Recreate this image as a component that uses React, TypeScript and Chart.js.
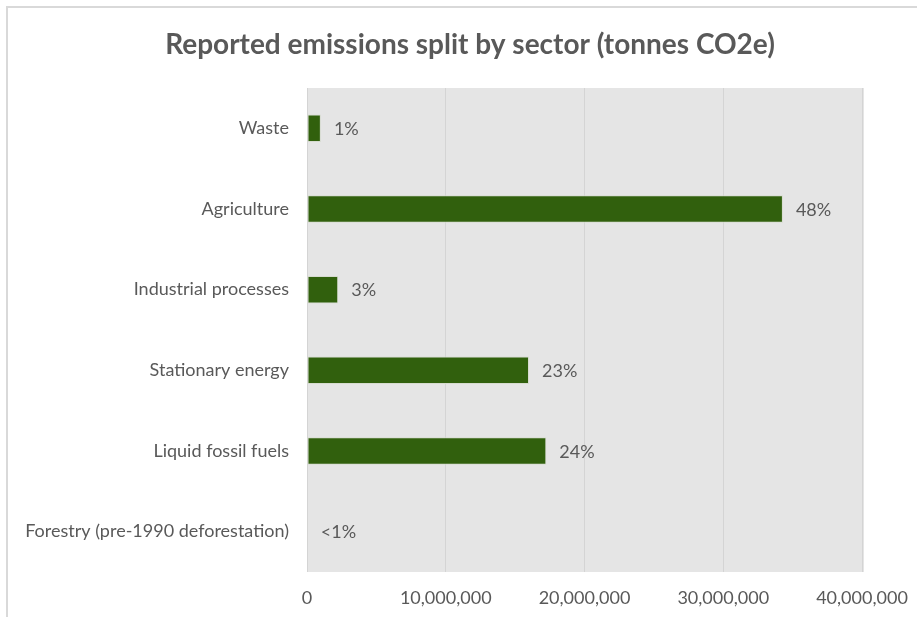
import React, { useEffect, useRef } from "react";
import { Chart, registerables } from "chart.js";

Chart.register(...registerables);

const categories = [
  "Waste",
  "Agriculture",
  "Industrial processes",
  "Stationary energy",
  "Liquid fossil fuels",
  "Forestry (pre-1990 deforestation)",
];
const emissions = [1000000, 34300000, 2250000, 16000000, 17250000, 60000];
const shareLabels = ["1%", "48%", "3%", "23%", "24%", "<1%"];
const xTicks = [0, 10000000, 20000000, 30000000, 40000000];

const TEXT = "#595959";
const FONT = "Lato, 'Open Sans', sans-serif";

export default function App() {
  const ref = useRef<HTMLCanvasElement | null>(null);

  useEffect(() => {
    document.body.style.margin = "0";
    const canvas = ref.current!;
    const framePlugin = {
      id: "frame",
      beforeDraw(chart: any) {
        const { ctx, chartArea } = chart;
        ctx.save();
        ctx.fillStyle = "#ffffff";
        ctx.fillRect(0, 0, chart.width, chart.height);
        ctx.strokeStyle = "#d9d9d9";
        ctx.lineWidth = 2;
        ctx.beginPath();
        ctx.moveTo(7, chart.height);
        ctx.lineTo(7, 7);
        ctx.lineTo(chart.width, 7);
        ctx.stroke();
        ctx.fillStyle = "#e5e5e5";
        ctx.fillRect(chartArea.left, chartArea.top, chartArea.right - chartArea.left + 2, chartArea.bottom - chartArea.top);
        ctx.fillStyle = TEXT;
        ctx.font = `bold 28px ${FONT}`;
        ctx.textAlign = "center";
        ctx.textBaseline = "middle";
        ctx.fillText("Reported emissions split by sector (tonnes CO2e)", 470, 45);
        ctx.restore();
      },
    };
    const labelPlugin = {
      id: "barLabels",
      afterDatasetsDraw(chart: any) {
        const { ctx } = chart;
        const meta = chart.getDatasetMeta(0);
        ctx.save();
        ctx.fillStyle = TEXT;
        ctx.font = `18px ${FONT}`;
        ctx.textAlign = "left";
        ctx.textBaseline = "middle";
        meta.data.forEach((bar: any, i: number) => {
          ctx.fillText(shareLabels[i], bar.x + 13, bar.y + 1);
        });
        ctx.restore();
      },
    };
    const chart = new Chart(canvas, {
      type: "bar",
      data: {
        labels: categories,
        datasets: [
          {
            data: emissions,
            backgroundColor: "#31600d",
            borderColor: "#d6dbcf",
            borderWidth: 1,
            borderSkipped: false,
            categoryPercentage: 1,
            barPercentage: 0.34,
          },
        ],
      },
      options: {
        indexAxis: "y",
        animation: false,
        responsive: false,
        layout: { padding: { top: 88, right: 55, bottom: 0, left: 0 } },
        plugins: {
          legend: { display: false },
          title: { display: false },
          tooltip: { enabled: false },
        },
        scales: {
          x: {
            min: 0,
            max: 40000000,
            afterBuildTicks(scale: any) {
              scale.ticks = xTicks.map((v) => ({ value: v }));
            },
            afterFit(scale: any) {
              scale.height = 45;
              scale.paddingLeft = 0;
              scale.paddingRight = 0;
            },
            grid: { color: "#d4d4d4", lineWidth: 1, drawTicks: false },
            border: { display: false },
            ticks: {
              padding: 15,
              color: TEXT,
              font: { family: FONT, size: 18 },
              maxRotation: 0,
              autoSkip: false,
              callback: (v: any) => Number(v).toLocaleString("en-US"),
            },
          },
          y: {
            afterFit(scale: any) {
              scale.width = 307;
            },
            grid: { display: false, drawTicks: false },
            border: { display: false },
            ticks: {
              padding: 18,
              color: TEXT,
              font: { family: FONT, size: 18 },
            },
          },
        },
      },
      plugins: [framePlugin, labelPlugin],
    });
    return () => chart.destroy();
  }, []);

  return <canvas ref={ref} width={917} height={617} style={{ display: "block" }} />;
}
